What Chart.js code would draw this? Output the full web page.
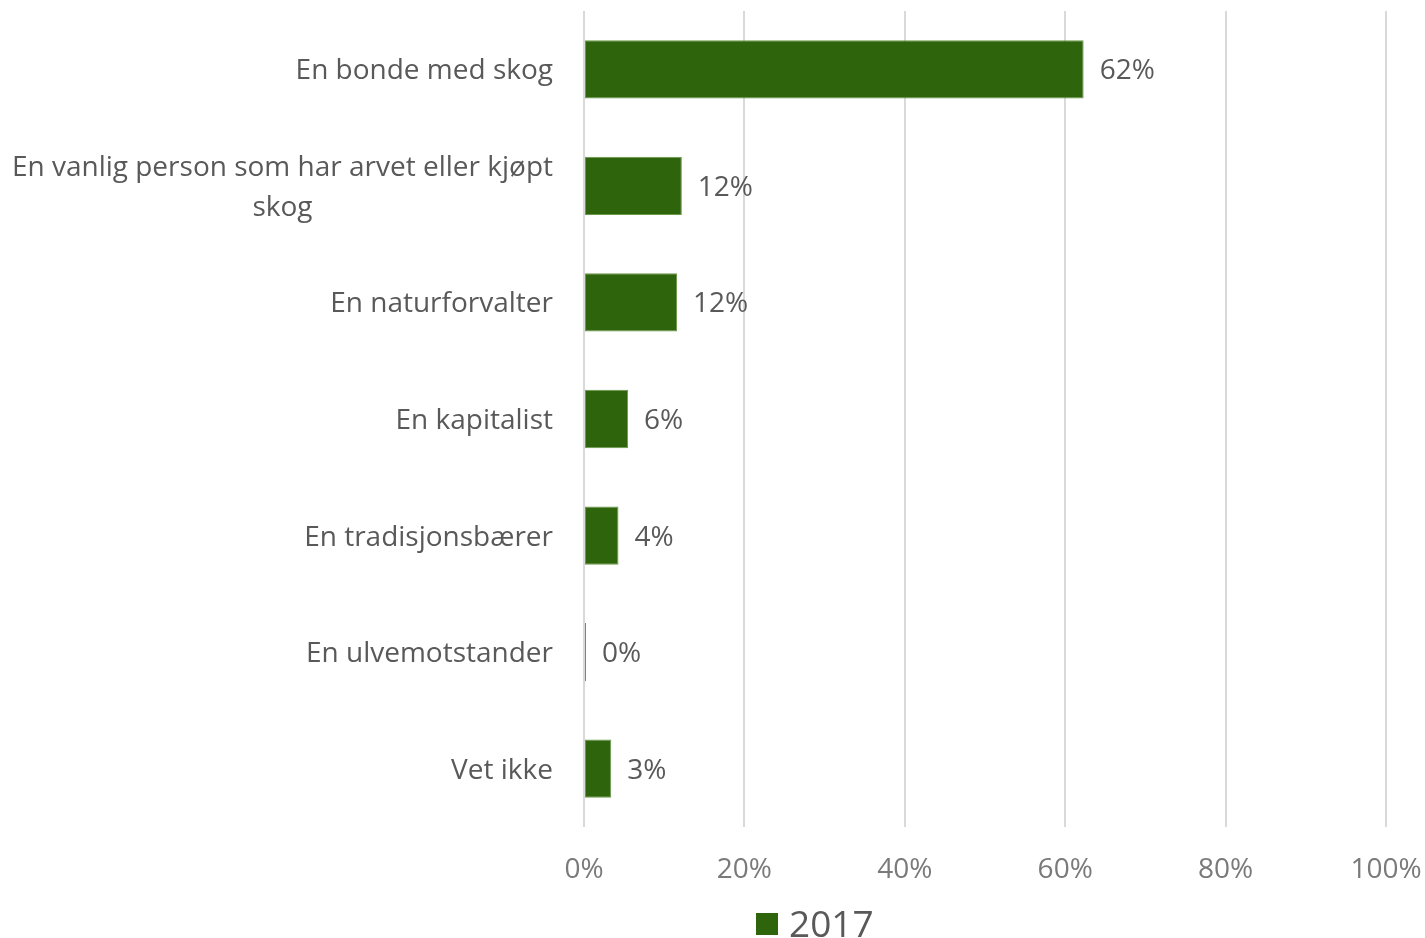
<!DOCTYPE html>
<html>
<head>
<meta charset="utf-8">
<script src="https://cdn.jsdelivr.net/npm/chart.js@4.4.1/dist/chart.umd.min.js"></script>
<style>
html,body{margin:0;padding:0;background:#fff;}
#wrap{width:1425px;height:938px;position:relative;}
</style>
</head>
<body>
<div id="wrap"><canvas id="c" width="1425" height="938"></canvas></div>
<script>
const categories = [
  "En bonde med skog",
  ["En vanlig person som har arvet eller kjøpt", "skog"],
  "En naturforvalter",
  "En kapitalist",
  "En tradisjonsbærer",
  "En ulvemotstander",
  "Vet ikke"
];
const values2017 = [62.3, 12.2, 11.6, 5.5, 4.3, 0.25, 3.4];
const seriesName = "2017";
const xTicks = [0, 20, 40, 60, 80, 100];

const FONT = "'Open Sans', sans-serif";
const BAR = '#2e640b';
const TXT = '#595959';

const catLabelPlugin = {
  id: 'catLabels',
  afterDraw(chart) {
    const ctx = chart.ctx;
    const y = chart.scales.y;
    const rightEdge = chart.chartArea.left - 31;
    ctx.save();
    ctx.font = "28px " + FONT;
    ctx.fillStyle = TXT;
    ctx.textBaseline = 'middle';
    categories.forEach((lab, i) => {
      const cy = y.getPixelForValue(i) + 2;
      const lines = Array.isArray(lab) ? lab : [lab];
      const lh = 40;
      const maxW = Math.max(...lines.map(l => ctx.measureText(l).width));
      const cx = rightEdge - maxW / 2;
      ctx.textAlign = 'center';
      lines.forEach((l, k) => {
        const ly = cy + (k - (lines.length - 1) / 2) * lh;
        ctx.fillText(l, cx, ly);
      });
    });
    ctx.restore();
  }
};

const valueLabelPlugin = {
  id: 'valueLabels',
  afterDatasetsDraw(chart) {
    const ctx = chart.ctx;
    const meta = chart.getDatasetMeta(0);
    ctx.save();
    ctx.font = "28px " + FONT;
    ctx.fillStyle = TXT;
    ctx.textAlign = 'left';
    ctx.textBaseline = 'middle';
    meta.data.forEach((bar, i) => {
      ctx.fillText(Math.round(values2017[i]) + '%', bar.x + 16, bar.y + 2);
    });
    ctx.restore();
  }
};

const legendPlugin = {
  id: 'customLegend',
  afterDraw(chart) {
    const ctx = chart.ctx;
    ctx.save();
    ctx.fillStyle = BAR;
    ctx.fillRect(756, 913, 22, 22);
    ctx.font = "37px " + FONT;
    ctx.fillStyle = TXT;
    ctx.textAlign = 'left';
    ctx.textBaseline = 'middle';
    ctx.fillText(seriesName, 789, 926);
    ctx.restore();
  }
};

new Chart(document.getElementById('c'), {
  type: 'bar',
  data: {
    labels: categories,
    datasets: [{
      label: seriesName,
      data: values2017,
      backgroundColor: BAR,
      borderColor: '#6a9a48',
      borderWidth: 1,
      borderSkipped: false,
      barPercentage: 0.5,
      categoryPercentage: 1.0
    }]
  },
  options: {
    indexAxis: 'y',
    responsive: false,
    animation: false,
    layout: { padding: { top: 11, bottom: 51, left: 0, right: 39 } },
    plugins: {
      legend: { display: false },
      tooltip: { enabled: false }
    },
    scales: {
      x: {
        min: 0, max: 100,
        afterBuildTicks(scale) { scale.ticks = xTicks.map(v => ({ value: v })); },
        afterFit(scale) { scale.height = 60; scale.paddingRight = 0; scale.paddingLeft = 0; },
        grid: { color: '#d9d9d9', lineWidth: 2, drawTicks: false },
        border: { display: false },
        ticks: {
          padding: 26,
          color: '#7a7a7a',
          font: { family: FONT, size: 28 },
          callback: v => v + '%'
        }
      },
      y: {
        afterFit(scale) { scale.width = 584; },
        grid: { display: false },
        border: { display: false },
        ticks: { display: false }
      }
    }
  },
  plugins: [catLabelPlugin, valueLabelPlugin, legendPlugin]
});
</script>
</body>
</html>
